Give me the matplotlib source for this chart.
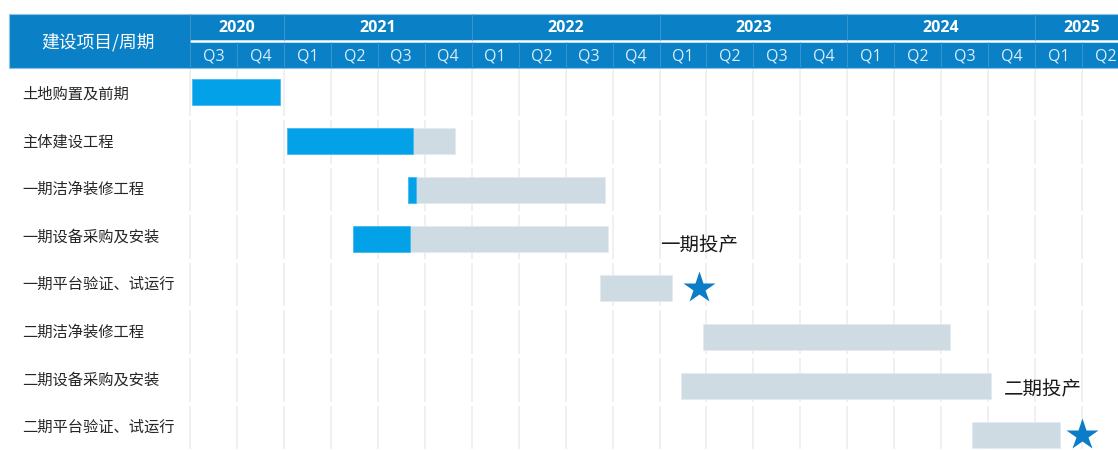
import matplotlib
matplotlib.use('Agg')
from matplotlib import pyplot as plt
from matplotlib.patches import Rectangle

tasks = ['土地购置及前期', '主体建设工程', '一期洁净装修工程', '一期设备采购及安装',
         '一期平台验证、试运行', '二期洁净装修工程', '二期设备采购及安装', '二期平台验证、试运行']

# time in quarters counted from the start of 2020 Q3
plan_start = [None, 3.80, 4.64, 3.48, 8.74, 10.92, 10.46, 16.65]
plan_end = [None, 5.65, 8.84, 8.91, 10.26, 16.19, 17.06, 18.52]
done_start = [0.04, 2.07, 4.64, 3.48, None, None, None, None]
done_end = [1.92, 4.76, 4.81, 4.69, None, None, None, None]

milestones = ['一期投产', '二期投产']
milestone_row = [4, 7]
milestone_at = [10.85, 19.0]

years = ['2020', '2021', '2022', '2023', '2024', '2025']
year_quarters = [2, 4, 4, 4, 4, 2]
quarter_labels = ['Q3', 'Q4'] + ['Q1', 'Q2', 'Q3', 'Q4'] * 4 + ['Q1', 'Q2']

W, H = 1118, 450
X0, QW = 190, 46.95          # left edge of the timeline, width of one quarter
ROW0, ROWH = 91.5, 49.0      # bar rows
LAB0, LABH = 94.2, 47.6      # label rows
HEAD_TOP, HEAD_MID, HEAD_BOT = 13.5, 41, 68

CJK = ['Noto Sans CJK SC', 'DejaVu Sans']
HEAD_BLUE = '#0a80c6'
BAR_BLUE = '#03a2e8'
BAR_GREY = '#cfdbe3'


def qx(px):
    return (px - X0) / QW


def ry(px):
    return (px - ROW0) / ROWH


fig = plt.figure(figsize=(W / 100, H / 100), dpi=100)
ax = fig.add_axes([0, 0, 1, 1])
ax.set_xlim(qx(0), qx(W))
ax.set_ylim(ry(H), ry(0))
ax.axis('off')

n_q = len(quarter_labels)

# light vertical grid, broken at each row boundary
bounds = [HEAD_BOT] + [LAB0 + LABH * (i + 0.5) for i in range(len(tasks))]
for a, b in zip(bounds[:-1], bounds[1:]):
    ax.vlines(range(n_q + 1), ry(a + 2), ry(b - 2), color='#ededed', lw=1.2, zorder=1)

# header band
ax.add_patch(Rectangle((qx(9.5), ry(HEAD_TOP)), n_q - qx(9.5), ry(HEAD_BOT) - ry(HEAD_TOP),
                       facecolor=HEAD_BLUE, edgecolor='#8cc3e8', lw=0.8, zorder=2))
ax.hlines(ry(HEAD_MID), 0, n_q, color='white', lw=1.8, zorder=3)
ax.vlines(range(n_q + 1), ry(HEAD_MID + 1), ry(HEAD_BOT), color='#3593cf', lw=0.8, zorder=3)

year_edges = [0]
for n in year_quarters:
    year_edges.append(year_edges[-1] + n)
ax.vlines(year_edges, ry(HEAD_TOP + 0.5), ry(HEAD_MID - 1), color='#3593cf', lw=0.8, zorder=3)

for name, start, n in zip(years, year_edges, year_quarters):
    ax.text(start + n / 2, ry(28.5), name, ha='center', va='center', color='white',
            fontsize=11.5, fontweight='bold', family='Open Sans', zorder=4)
for i, q in enumerate(quarter_labels):
    ax.text(i + 0.5, ry(56.5), q, ha='center', va='center', color='#d9edfa',
            fontsize=11.5, family='Open Sans', zorder=4)
ax.text(qx(98.5), ry(42), '建设项目/周期', ha='center', va='center', color='white',
        fontsize=12.8, family=CJK, zorder=4)

# task names
for i, name in enumerate(tasks):
    ax.text(qx(22), ry(LAB0 + LABH * i), name, ha='left', va='center', color='#262626',
            fontsize=11, family=CJK)

bar_h = 26 / ROWH
for i in range(len(tasks)):
    if plan_start[i] is not None:
        ax.barh(i, plan_end[i] - plan_start[i], left=plan_start[i], height=bar_h,
                color=BAR_GREY, edgecolor='#e4ebf0', lw=0.6, zorder=5)
    if done_start[i] is not None:
        ax.barh(i, done_end[i] - done_start[i], left=done_start[i], height=bar_h,
                color=BAR_BLUE, edgecolor='#45b9ee', lw=0.6, zorder=6)

# milestones
ax.plot(milestone_at, milestone_row, '*', ms=24, color='#0a7cc8', mec='none', zorder=7)
for name, row, q, ha, lift in zip(milestones, milestone_row, milestone_at,
                                  ['center', 'right'], [42, 45]):
    ax.text(q, row - lift / ROWH, name, ha=ha, va='center', color='#1a1a1a',
            fontsize=14, family=CJK, zorder=7)

fig.savefig('out.png', dpi=100)
